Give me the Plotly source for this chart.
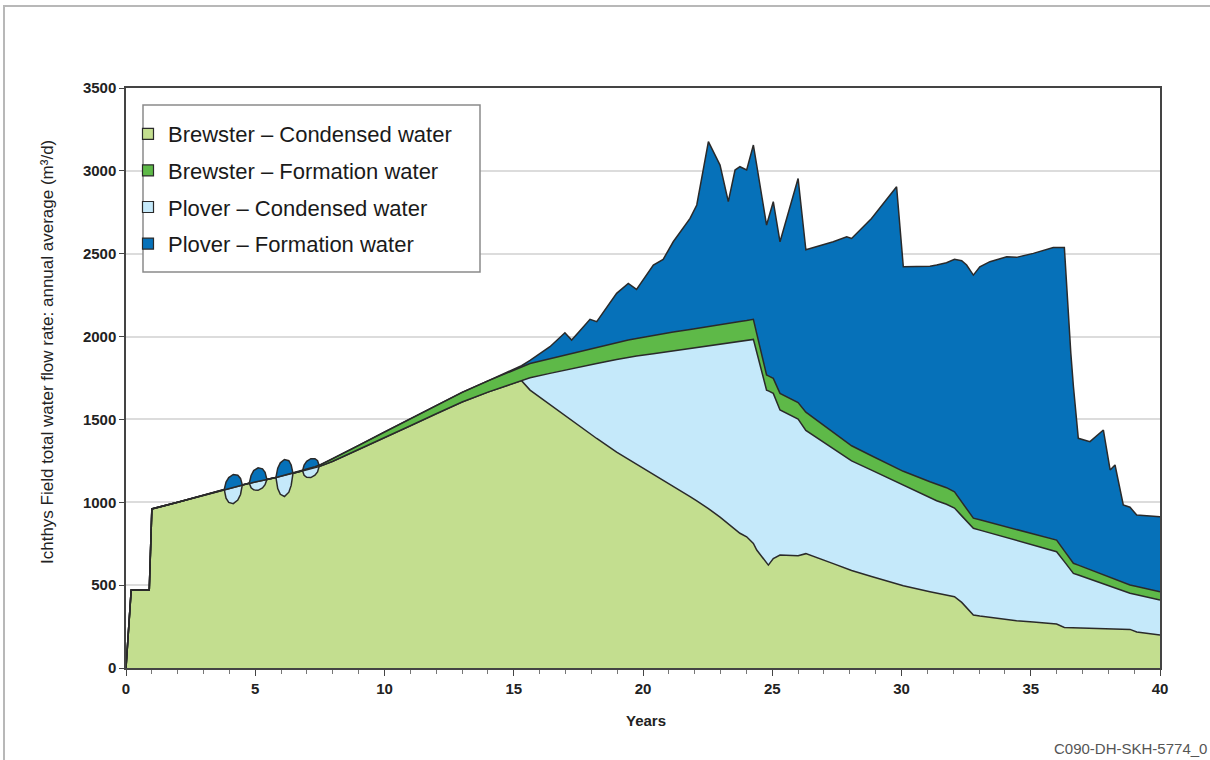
import plotly.graph_objects as go

# ---- data ----
years = [0, 0.2, 0.9, 1.0, 2.0, 3.0,
         3.8, 3.87, 3.975, 4.15, 4.325, 4.43, 4.5,
         4.77, 4.84, 4.94, 5.11, 5.28, 5.38, 5.45,
         5.8, 5.87, 5.97, 6.13, 6.3, 6.39, 6.46,
         6.83, 6.89, 6.99, 7.15, 7.31, 7.41, 7.47,
         8, 9, 10, 11, 12, 13, 14, 15.3,
         15.63, 16.4, 16.98, 17.24, 17.56, 17.95, 18.21, 18.98, 19.43, 19.75, 20.4, 20.78, 21.17,
         21.82, 22.08, 22.53, 22.98, 23.3, 23.56, 23.75, 24.01, 24.27,
         24.4, 24.78, 24.85, 25.04, 25.3, 26.0, 26.3, 27.36, 27.88, 28.07, 28.84, 29.81, 30.07,
         31.1, 31.36, 31.74, 32.05, 32.33, 32.52, 32.78, 33.03, 33.42, 34.07, 34.45, 35.1, 35.87,
         36.0, 36.3, 36.55, 36.65, 36.84, 37.29, 37.81, 38.07, 38.26, 38.58, 38.84, 39.1, 40]

brewster_condensed = [0, 470, 470, 960, 1000, 1042,
                      1078, 1025, 999, 992, 1013, 1047, 1105,
                      1115, 1087, 1075, 1072, 1086, 1106, 1138,
                      1150, 1083, 1048, 1035, 1061, 1102, 1175,
                      1190, 1163, 1151, 1149, 1163, 1183, 1215,
                      1248, 1318, 1390, 1462, 1535, 1605, 1665, 1734,
                      1677, 1589, 1522, 1493, 1456, 1413, 1385, 1303, 1261, 1231, 1171, 1135, 1098,
                      1034, 1008, 962, 910, 870, 837, 813, 792, 752,
                      712, 632, 621, 660, 682, 677, 690, 630, 598, 588, 552, 507, 496,
                      460, 451, 439, 430, 396, 364, 320, 314, 305, 290, 285, 277, 267,
                      265, 245, 244, 243, 242, 240, 238, 237, 236, 234, 233, 217, 199]

plover_condensed = [0, 0, 0, 0, 0, 0,
                    0, 55, 85, 100, 85, 55, 0,
                    0, 30, 46, 54, 46, 30, 0,
                    0, 70, 108, 127, 108, 70, 0,
                    0, 29, 45, 53, 45, 29, 0,
                    0, 0, 0, 0, 0, 0, 0, 0,
                    74, 189, 276, 314, 362, 417, 453, 559, 615, 652, 726, 770, 815,
                    894, 926, 982, 1044, 1091, 1130, 1158, 1185, 1231,
                    1193, 1045, 1051, 997, 875, 825, 744, 691, 669, 662, 642, 616, 608,
                    564, 558, 549, 535, 522, 522, 523, 518, 510, 496, 485, 464, 441,
                    437, 397, 347, 328, 319, 296, 269, 256, 247, 231, 218, 225, 211]

brewster_formation = [0, 0, 0, 0, 0, 0,
                      0, 0, 0, 0, 0, 0, 0,
                      0, 0, 0, 0, 0, 0, 0,
                      0, 0, 0, 0, 0, 0, 0,
                      0, 1, 3, 5, 7, 8, 8,
                      15, 25, 35, 42, 50, 58, 68, 85,
                      86, 88, 90, 91, 92, 94, 96, 100, 103, 105, 110, 112, 114,
                      115, 116, 117, 118, 119, 119, 120, 120, 121,
                      113, 91, 91, 91, 100, 100, 110, 98, 93, 91, 87, 82, 83,
                      100, 101, 100, 98, 84, 75, 61, 62, 63, 65, 66, 68, 69,
                      70, 65, 63, 61, 60, 58, 56, 54, 53, 52, 50, 50, 50]

plover_formation = [0, 0, 0, 0, 0, 0,
                    0, 42, 65, 76, 65, 42, 0,
                    0, 45, 70, 82, 70, 45, 0,
                    0, 53, 82, 96, 82, 53, 0,
                    0, 31, 48, 56, 48, 31, 0,
                    0, 0, 0, 0, 0, 0, 0, 5,
                    19, 73, 135, 81, 125, 180, 156, 299, 342, 297, 425, 449, 545,
                    670, 744, 1115, 963, 734, 919, 934, 908, 1052,
                    1015, 905, 948, 1066, 915, 1352, 980, 1153, 1242, 1251, 1432, 1699, 1234,
                    1301, 1322, 1358, 1403, 1456, 1471, 1467, 1527, 1574, 1631, 1642, 1693, 1761,
                    1766, 1831, 1246, 1068, 765, 772, 873, 648, 689, 467, 469, 431, 453]

x_ticks = [0, 5, 10, 15, 20, 25, 30, 35, 40]
y_ticks = [0, 500, 1000, 1500, 2000, 2500, 3000, 3500]

# (name, values, fill colour, legend rank) in stacking order, bottom first
series = [
    ("Brewster – Condensed water", brewster_condensed, "#c3de8f", 1),
    ("Plover – Condensed water", plover_condensed, "#c5e9fa", 3),
    ("Brewster – Formation water", brewster_formation, "#5eb948", 2),
    ("Plover – Formation water", plover_formation, "#0671b9", 4),
]

FONT = "Liberation Sans, Arial, Helvetica, sans-serif"
OUTLINE = "#2a2a2a"

fig = go.Figure()
for name, vals, col, rank in series:
    fig.add_trace(go.Scatter(
        x=years, y=vals, name=name, stackgroup="water", mode="lines",
        line=dict(color=OUTLINE, width=1.5), fillcolor=col,
        legendgroup=name, showlegend=False,
        hovertemplate="%{x}: %{y}<extra>" + name + "</extra>"))
for name, vals, col, rank in series:
    fig.add_trace(go.Scatter(
        x=[None], y=[None], name=name, mode="markers",
        marker=dict(symbol="square", size=11, color=col, line=dict(color=OUTLINE, width=1.2)),
        legendgroup=name, legendrank=rank, showlegend=True))

W, H = 1210, 760
L, R, T, B = 126, 50, 88, 92
PW, PH = W - L - R, H - T - B


def px(xp):
    return (xp - L) / PW


def py(yp):
    return (H - B - yp) / PH


fig.update_layout(
    width=W, height=H,
    margin=dict(l=L, r=R, t=T, b=B),
    paper_bgcolor="white", plot_bgcolor="white",
    font=dict(family=FONT, color="#222"),
    xaxis=dict(range=[0, 40], tickvals=x_ticks, ticks="outside", ticklen=6, tickwidth=1.2,
               tickcolor="#444", showgrid=False, zeroline=False,
               showline=True, linecolor="#444", linewidth=1.5, mirror=True,
               tickfont=dict(family=FONT, size=15, color="#222", weight="bold"),
               minor=dict(dtick=1, ticks="outside", ticklen=4, tickcolor="#777", showgrid=False)),
    yaxis=dict(range=[0, 3500], tickvals=y_ticks, ticks="outside", ticklen=5, tickwidth=1.2,
               tickcolor="#444", showgrid=True, gridcolor="#dcdcdc", gridwidth=2, zeroline=False,
               showline=True, linecolor="#444", linewidth=1.5, mirror=True,
               tickfont=dict(family=FONT, size=15, color="#222", weight="bold")),
    legend=dict(x=px(128), y=py(113), xanchor="left", yanchor="top",
                bgcolor="rgba(0,0,0,0)", borderwidth=0, traceorder="grouped",
                tracegroupgap=5, font=dict(family=FONT, size=22, color="#1a1a1a")),
    shapes=[
        dict(type="rect", xref="paper", yref="paper", x0=px(143), x1=px(480), y0=py(272), y1=py(105),
             line=dict(color="#8a8a8a", width=1.5), fillcolor="white", layer="above"),
        dict(type="line", xref="paper", yref="paper", x0=px(3), x1=px(1210), y0=py(6), y1=py(6),
             line=dict(color="#b8b8b8", width=2)),
        dict(type="line", xref="paper", yref="paper", x0=px(4), x1=px(4), y0=py(6), y1=py(760),
             line=dict(color="#b8b8b8", width=2)),
    ],
    annotations=[
        dict(text="Ichthys Field total water flow rate: annual average (m³/d)", xref="paper", yref="paper",
             x=px(47), y=py(352), textangle=-90, showarrow=False, xanchor="center", yanchor="middle",
             font=dict(family=FONT, size=17, color="#222")),
        dict(text="<b>Years</b>", xref="paper", yref="paper", x=px(646), y=py(720), showarrow=False,
             xanchor="center", yanchor="middle", font=dict(family=FONT, size=15, color="#222")),
        dict(text="C090-DH-SKH-5774_0", xref="paper", yref="paper", x=px(1209), y=py(748), showarrow=False,
             xanchor="right", yanchor="middle", font=dict(family=FONT, size=15, color="#555")),
    ],
)

fig.write_html("out.html", config={"displayModeBar": False},
               post_script="document.body.style.margin='0px';")
